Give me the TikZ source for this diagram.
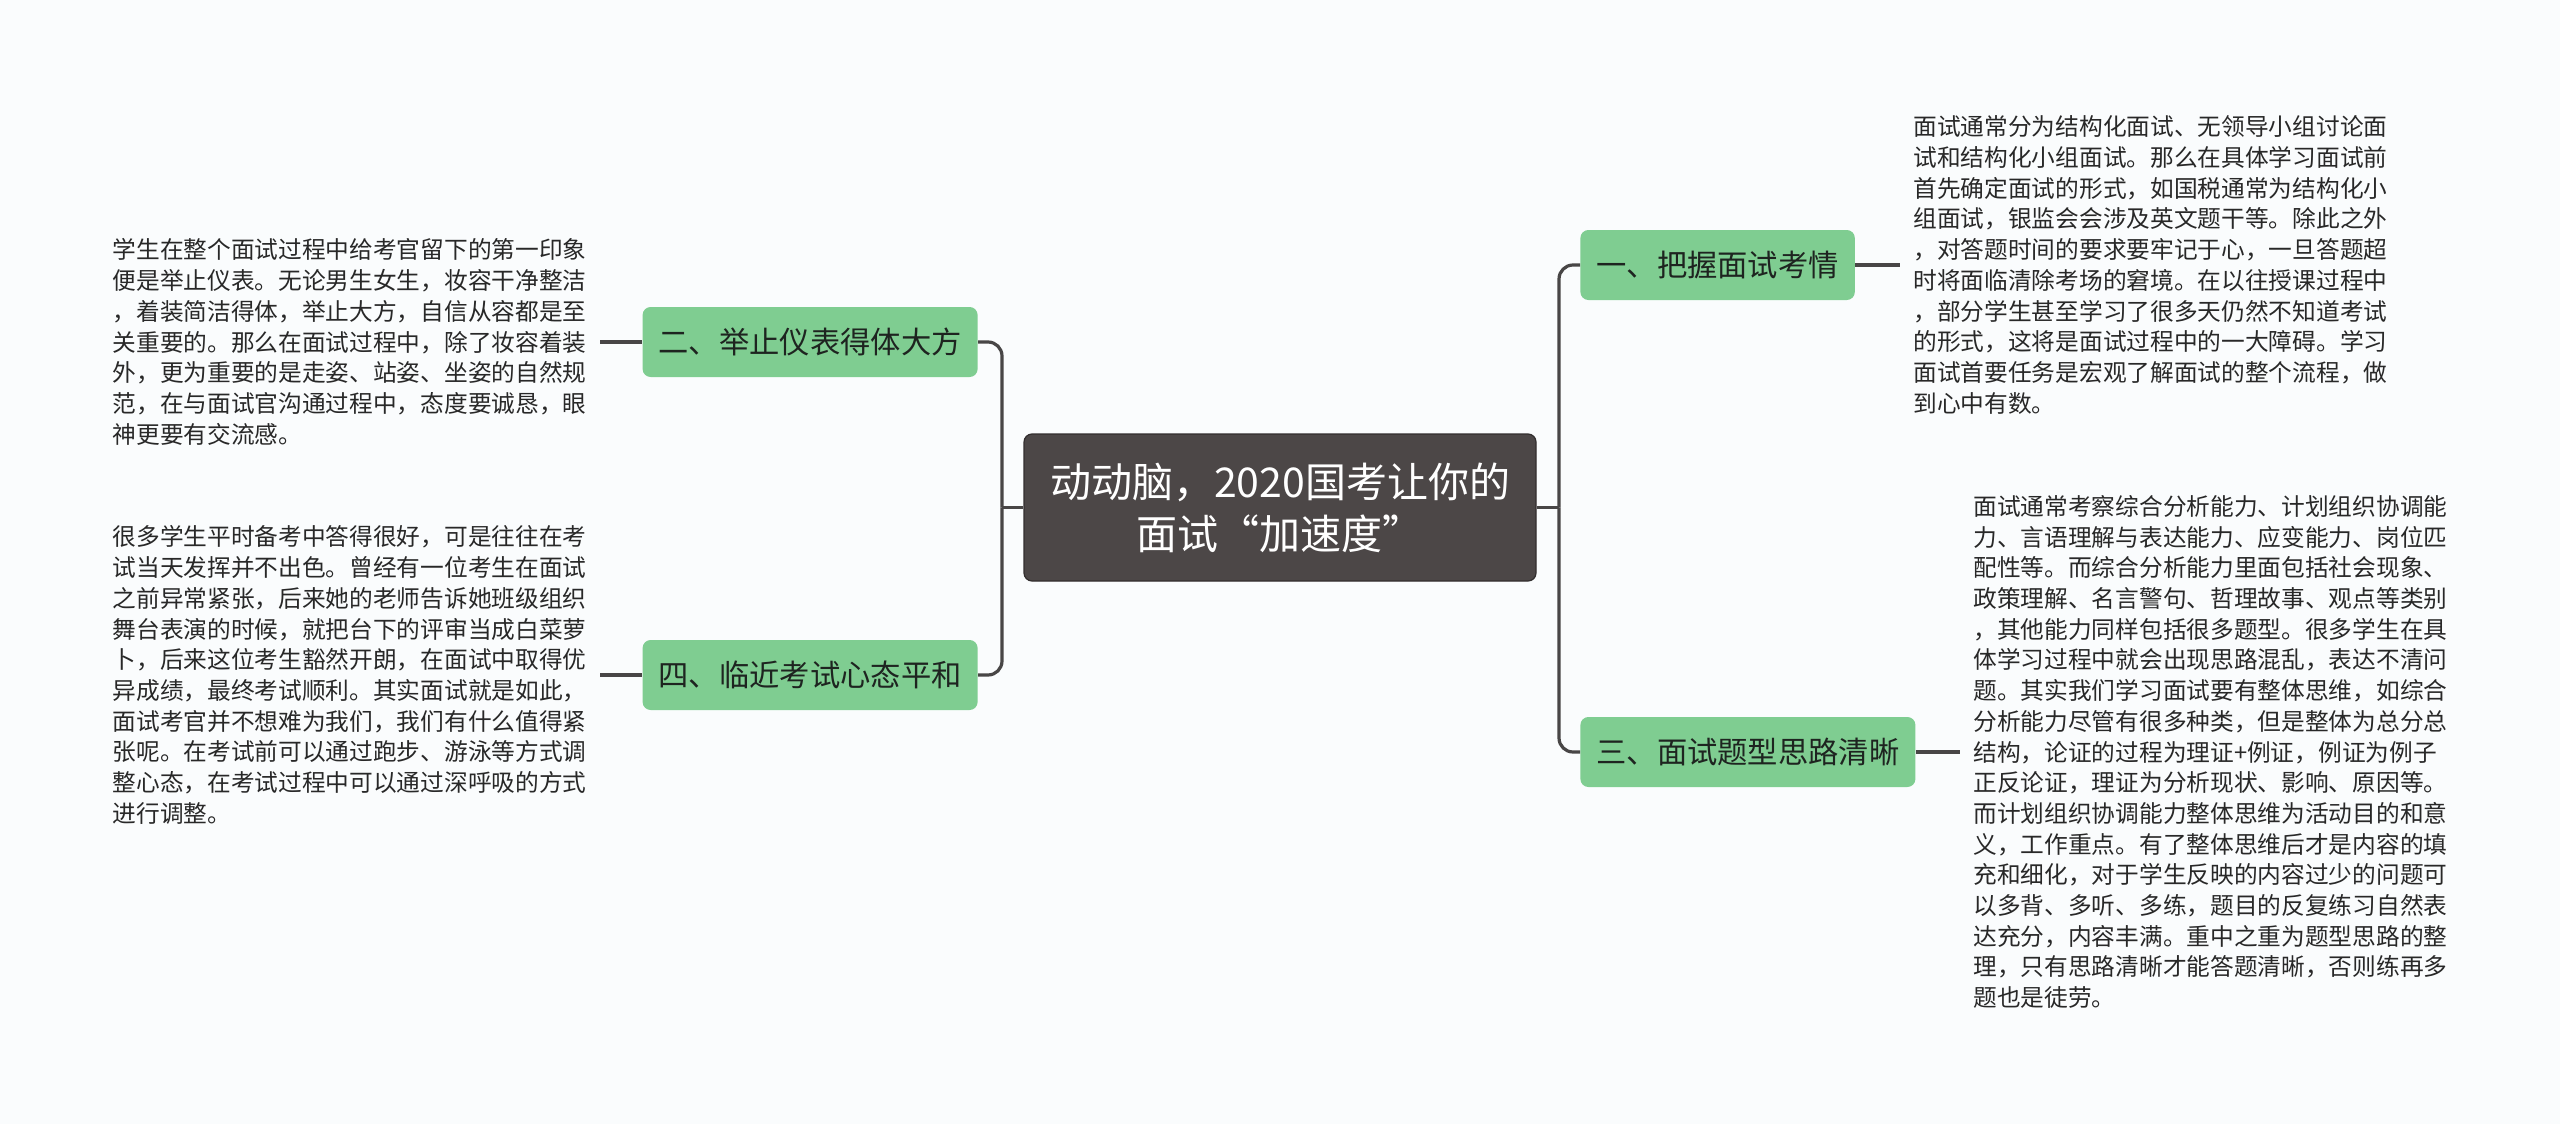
\documentclass[tikz,border=0pt]{standalone}
\usepackage{fontspec}
\setmainfont{Noto Sans CJK SC}
\usetikzlibrary{calc}
\definecolor{bgc}{RGB}{250,252,253}
\definecolor{cenfill}{RGB}{76,71,71}
\definecolor{cenline}{RGB}{50,46,46}
\definecolor{greenfill}{RGB}{127,205,145}
\definecolor{darktxt}{RGB}{30,36,32}
\definecolor{desctxt}{RGB}{40,40,40}
\definecolor{connc}{RGB}{72,70,70}
\tikzset{
  central/.style={fill=cenfill, draw=cenline, line width=0.6pt, rounded corners=4pt,
    minimum width=256pt, minimum height=73.5pt, text=white, align=center,
    font=\fontsize{20.5}{26}\selectfont},
  branch/.style={fill=greenfill, rounded corners=4pt, minimum height=35pt,
    inner xsep=8pt, text=darktxt, font=\fontsize{15.15}{18}\selectfont},
  desc/.style={align=left, inner xsep=6.5pt, inner ysep=0pt, text=desctxt,
    font=\fontsize{11.85}{15.35}\selectfont},
  conn/.style={draw=connc, line width=1.6pt},
  elbow/.style={conn, rounded corners=7pt}
}
\begin{document}
\begin{tikzpicture}[x=0.5pt,y=-0.5pt]
\fill[bgc] (0,0) rectangle (2560,1124);
\useasboundingbox (0,0) rectangle (2560,1124);

\node[central] (cen) at (1280,507.5) {动动脑，2020国考让你的\\面试“加速度”};

\node[branch, anchor=east] (n2) at (978,342) {二、举止仪表得体大方};
\node[branch, anchor=east] (n4) at (978,675) {四、临近考试心态平和};
\node[branch, anchor=west] (n1) at (1580,265) {一、把握面试考情};
\node[branch, anchor=west] (n3) at (1580,752) {三、面试题型思路清晰};

\node[desc, anchor=east] (t1) at (600,342) {学生在整个面试过程中给考官留下的第一印象\\
便是举止仪表。无论男生女生，妆容干净整洁\\
，着装简洁得体，举止大方，自信从容都是至\\
关重要的。那么在面试过程中，除了妆容着装\\
外，更为重要的是走姿、站姿、坐姿的自然规\\
范，在与面试官沟通过程中，态度要诚恳，眼\\
神更要有交流感。};

\node[desc, anchor=east] (t2) at (600,675) {很多学生平时备考中答得很好，可是往往在考\\
试当天发挥并不出色。曾经有一位考生在面试\\
之前异常紧张，后来她的老师告诉她班级组织\\
舞台表演的时候，就把台下的评审当成白菜萝\\
卜，后来这位考生豁然开朗，在面试中取得优\\
异成绩，最终考试顺利。其实面试就是如此，\\
面试考官并不想难为我们，我们有什么值得紧\\
张呢。在考试前可以通过跑步、游泳等方式调\\
整心态，在考试过程中可以通过深呼吸的方式\\
进行调整。};

\node[desc, anchor=west] (t3) at (1900,265) {面试通常分为结构化面试、无领导小组讨论面\\
试和结构化小组面试。那么在具体学习面试前\\
首先确定面试的形式，如国税通常为结构化小\\
组面试，银监会会涉及英文题干等。除此之外\\
，对答题时间的要求要牢记于心，一旦答题超\\
时将面临清除考场的窘境。在以往授课过程中\\
，部分学生甚至学习了很多天仍然不知道考试\\
的形式，这将是面试过程中的一大障碍。学习\\
面试首要任务是宏观了解面试的整个流程，做\\
到心中有数。};

\node[desc, anchor=west] (t4) at (1960,752) {面试通常考察综合分析能力、计划组织协调能\\
力、言语理解与表达能力、应变能力、岗位匹\\
配性等。而综合分析能力里面包括社会现象、\\
政策理解、名言警句、哲理故事、观点等类别\\
，其他能力同样包括很多题型。很多学生在具\\
体学习过程中就会出现思路混乱，表达不清问\\
题。其实我们学习面试要有整体思维，如综合\\
分析能力尽管有很多种类，但是整体为总分总\\
结构，论证的过程为理证+例证，例证为例子\\
正反论证，理证为分析现状、影响、原因等。\\
而计划组织协调能力整体思维为活动目的和意\\
义，工作重点。有了整体思维后才是内容的填\\
充和细化，对于学生反映的内容过少的问题可\\
以多背、多听、多练，题目的反复练习自然表\\
达充分，内容丰满。重中之重为题型思路的整\\
理，只有思路清晰才能答题清晰，否则练再多\\
题也是徒劳。};

\coordinate (lf) at (1002,507.5);
\coordinate (rf) at (1559,507.5);
\draw[conn] (cen.west) -- (lf);
\draw[elbow] (lf) |- (n2.east);
\draw[elbow] (lf) |- (n4.east);
\draw[conn] (cen.east) -- (rf);
\draw[elbow] (rf) |- (n1.west);
\draw[elbow] (rf) |- (n3.west);

\draw[conn] (t1.east) -- (n2.west);
\draw[conn] (t2.east) -- (n4.west);
\draw[conn] (n1.east) -- (t3.west);
\draw[conn] (n3.east) -- (t4.west);
\end{tikzpicture}
\end{document}
